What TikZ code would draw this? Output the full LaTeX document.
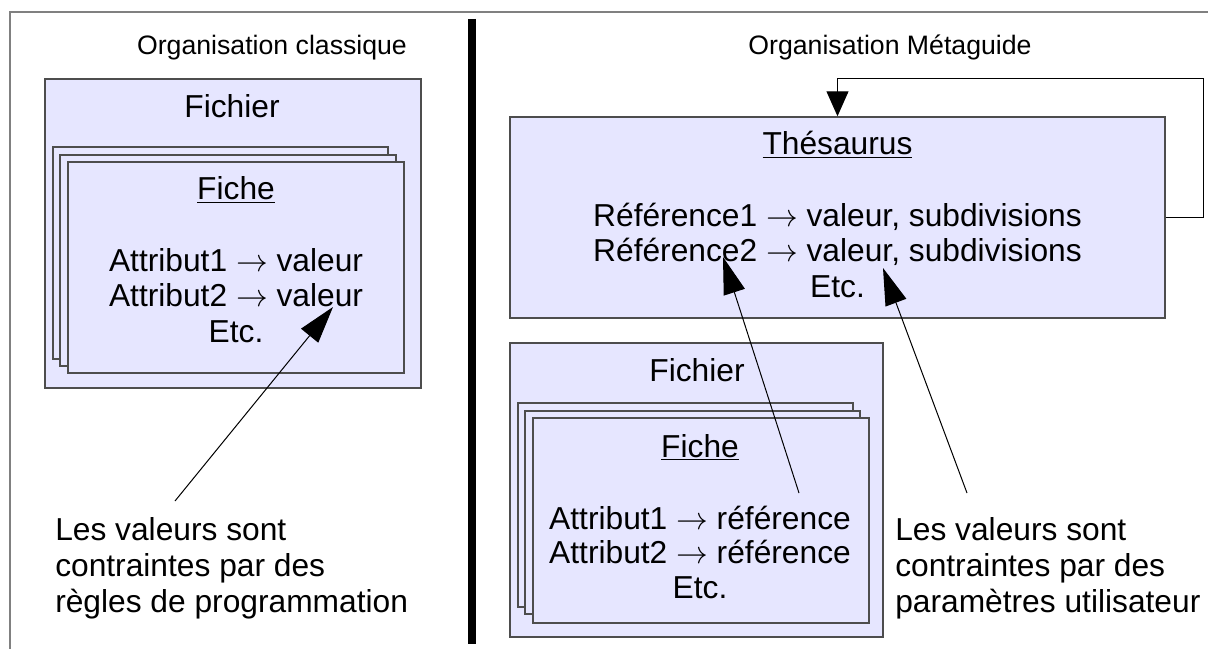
\RequirePackage{fix-cm}
\documentclass[tikz,border=0pt]{standalone}
\usepackage{fontspec}
\setmainfont{Liberation Sans}
\usetikzlibrary{arrows.meta,fit}
\definecolor{boxfill}{HTML}{E6E6FF}
\definecolor{boxline}{HTML}{4D4D4D}
\definecolor{framegray}{HTML}{808080}
\newcommand{\arr}{\ensuremath{\rightarrow}}
\newcommand{\bodyfont}{\fontsize{23.8}{27.4}\selectfont}
\newcommand{\titlefont}{\fontsize{20}{23}\selectfont}
\begin{document}
\begin{tikzpicture}[x=0.75pt,y=-0.75pt,
  box/.style={draw=boxline,fill=boxfill,line width=1.1pt,inner sep=0pt},
  txt/.style={anchor=base,inner sep=0pt,font=\bodyfont},
  ttl/.style={anchor=base,inner sep=0pt,font=\titlefont},
  note/.style={anchor=base west,inner sep=0pt,font=\bodyfont},
  pointer/.style={line width=0.75pt,-{Triangle[length=27.75pt,width=16.5pt]}},
  looparrow/.style={line width=0.75pt,-{Triangle[length=18.75pt,width=16.5pt]}},
  frameline/.style={draw=framegray,line width=1pt},
  divider/.style={line width=6pt}]
\useasboundingbox (0,0) rectangle (1208,649);
% page frame
\draw[frameline] (10,649) -- (10,12) -- (1208,12);
% divider
\draw[divider] (472,19) -- (472,644);

% ---------- left panel ----------
\node[ttl] (titleL) at (272,55) {Organisation classique};
\node[box,fit={(45,79) (421,388)}] (fichL) {};
\node[box,fit={(53,147) (388,359)}] (cardL3) {};
\node[box,fit={(60,155) (396,366)}] (cardL2) {};
\node[box,fit={(68,162) (404,373)}] (cardL1) {};
\node[txt] (fichLt) at (232,118) {Fichier};
\node[txt] (ficheL) at (236,200) {\underline{Fiche}};
\node[txt] (a1L) at (236,272) {Attribut1 \arr{} valeur};
\node[txt] (a2L) at (236,307) {Attribut2 \arr{} valeur};
\node[txt] (etcL) at (236,343) {Etc.};
\node[note] (nL1) at (55,540) {Les valeurs sont};
\node[note] (nL2) at (55,576) {contraintes par des};
\node[note] (nL3) at (55,612) {règles de programmation};
\coordinate (pL) at (175,501);
\coordinate (tL) at (333,307);
\draw[pointer] (pL) -- (tL);

% ---------- right panel ----------
\node[ttl] (titleR) at (890,55) {Organisation Métaguide};
\node[box,fit={(510,117) (1165,318)}] (thes) {};
\node[txt] (thest) at (837.5,155) {\underline{Thésaurus}};
\node[txt] (r1) at (837.5,227) {Référence1 \arr{} valeur, subdivisions};
\node[txt] (r2) at (837.5,262) {Référence2 \arr{} valeur, subdivisions};
\node[txt] (etcT) at (837.5,298) {Etc.};

\node[box,fit={(510,343) (883,637)}] (fichR) {};
\node[box,fit={(518,403) (853,607)}] (cardR3) {};
\node[box,fit={(525,411) (860,614)}] (cardR2) {};
\node[box,fit={(533,418) (869,623)}] (cardR1) {};
\node[txt] (fichRt) at (697,382) {Fichier};
\node[txt] (ficheR) at (700,457) {\underline{Fiche}};
\node[txt] (a1R) at (700,529) {Attribut1 \arr{} référence};
\node[txt] (a2R) at (700,563) {Attribut2 \arr{} référence};
\node[txt] (etcR) at (700,598) {Etc.};
\node[note] (nR1) at (895,540) {Les valeurs sont};
\node[note] (nR2) at (895,576) {contraintes par des};
\node[note] (nR3) at (895,612) {paramètres utilisateur};

\coordinate (loopc) at (1203,79);
\draw[looparrow] (thes.east) -| (loopc) -| (thes.north);
\coordinate (pR1) at (799,493);
\coordinate (tR1) at (723,257);
\draw[pointer] (pR1) -- (tR1);
\coordinate (pR2) at (967,493);
\coordinate (tR2) at (883,268);
\draw[pointer] (pR2) -- (tR2);
\end{tikzpicture}
\end{document}
